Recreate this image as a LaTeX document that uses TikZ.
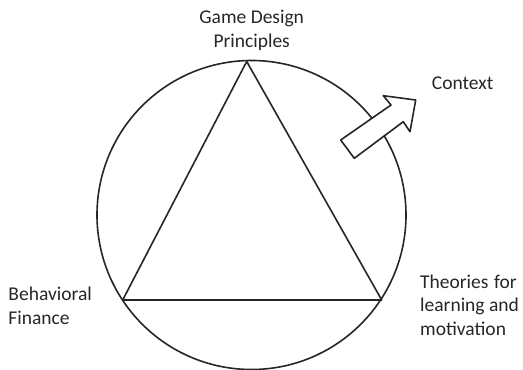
\documentclass[tikz,border=0pt]{standalone}
\usepackage{fontspec}
\setmainfont{Carlito}
\begin{document}
\begin{tikzpicture}[x=1pt,y=-1pt,
  line/.style={draw=black!85,line width=1.6pt,line join=round},
  lbl/.style={inner sep=0pt,font=\fontsize{19.5}{23.3}\selectfont,text=black!85}]
\useasboundingbox (0,0) rectangle (523,370);
% circle
\coordinate (o) at (251.5,215);
\draw[line] (o) circle[radius=154.5];
% triangle
\coordinate (top) at (246.7,61.5);
\coordinate (left) at (122.7,300);
\coordinate (right) at (381.7,300);
\draw[line] (top) -- (left) -- (right) -- cycle;
% arrow
\coordinate (a) at (340.7,140);
\coordinate (b) at (354.3,158.3);
\coordinate (c) at (403.3,121.7);
\coordinate (d) at (391,105);
\coordinate (e) at (383.3,95.7);
\coordinate (t) at (415.7,100);
\coordinate (f) at (410,131.7);
\draw[line,fill=white] (a) -- (d) -- (e) -- (t) -- (f) -- (c) -- (b) -- cycle;
% labels
\node[lbl,align=center,anchor=base] (gdp) at (251.7,47) {Game Design\\Principles};
\node[lbl,anchor=base west] (ctx) at (431.7,89.3) {Context};
\node[lbl,align=left,anchor=base west] (bf) at (8.3,324) {Behavioral\\Finance};
\node[lbl,align=left,anchor=base west] (th) at (420,335) {Theories\hspace{5.5pt}for\\learning and\\motivation};
\end{tikzpicture}
\end{document}
